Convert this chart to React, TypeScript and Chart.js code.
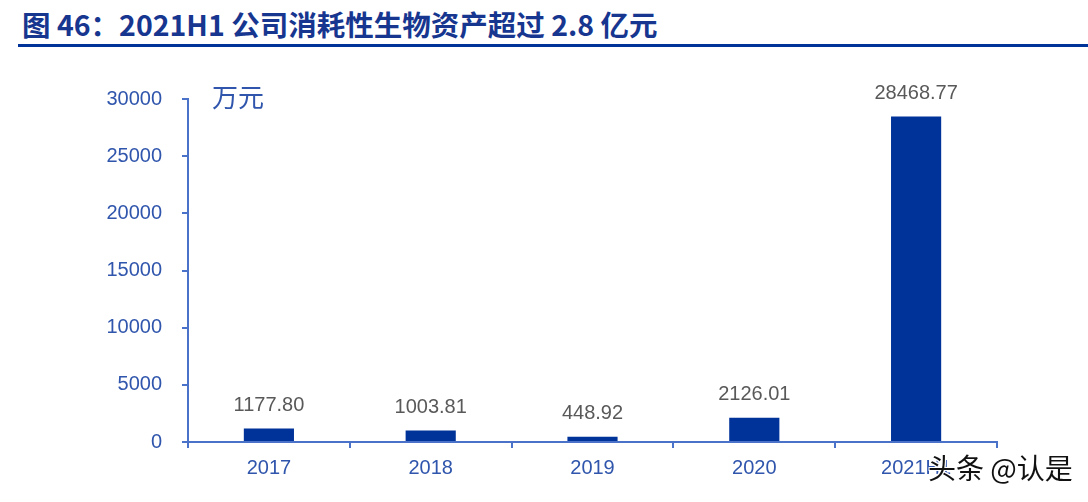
import React, { useEffect, useRef } from "react";
import { Chart, registerables } from "chart.js";

Chart.register(...registerables);

const categories = ["2017", "2018", "2019", "2020", "2021H1"];
const values = [1177.8, 1003.81, 448.92, 2126.01, 28468.77];
const yTicks = [0, 5000, 10000, 15000, 20000, 25000, 30000];
const titleText = "图 46：2021H1 公司消耗性生物资产超过 2.8 亿元";
const unitText = "万元";
const watermarkText = "头条 @认是";

const AXIS_BLUE = "#2f55ac";
const LINE_BLUE = "#4a72c8";
const BAR_BLUE = "#003399";

export default function App() {
  const ref = useRef<HTMLCanvasElement | null>(null);

  useEffect(() => {
    document.body.style.margin = "0";
    const canvas = ref.current;
    if (!canvas) return;

    const labelPlugin = {
      id: "barValueLabels",
      afterDatasetsDraw(chart: any) {
        const ctx = chart.ctx;
        const meta = chart.getDatasetMeta(0);
        ctx.save();
        ctx.font = "20px 'Liberation Sans', Arial, sans-serif";
        ctx.fillStyle = "#595959";
        ctx.textAlign = "center";
        ctx.textBaseline = "middle";
        meta.data.forEach((bar: any, i: number) => {
          ctx.fillText(values[i].toFixed(2), bar.x, bar.y - 23);
        });
        ctx.restore();
      },
    };

    const chart = new Chart(canvas, {
      type: "bar",
      data: {
        labels: categories,
        datasets: [
          {
            data: values,
            backgroundColor: BAR_BLUE,
            borderWidth: 0,
            barPercentage: 0.31,
            categoryPercentage: 1,
          },
        ],
      },
      options: {
        responsive: false,
        animation: false,
        layout: { padding: { left: 0, top: 99, right: 91, bottom: 0 } },
        plugins: {
          legend: { display: false },
          tooltip: { enabled: false },
          title: { display: false },
        },
        scales: {
          x: {
            grid: {
              display: true,
              offset: true,
              drawOnChartArea: false,
              drawTicks: true,
              tickLength: 6,
              tickColor: LINE_BLUE,
              lineWidth: 2,
            },
            border: { display: true, color: LINE_BLUE, width: 2 },
            ticks: {
              color: AXIS_BLUE,
              font: { family: "'Liberation Sans', Arial, sans-serif", size: 20 },
              padding: 8,
              maxRotation: 0,
            },
            afterFit: (s: any) => {
              s.height = 60;
            },
          },
          y: {
            min: 0,
            max: 30000,
            afterBuildTicks: (s: any) => {
              s.ticks = yTicks.map((v) => ({ value: v }));
            },
            grid: {
              display: true,
              drawOnChartArea: false,
              drawTicks: true,
              tickLength: 6,
              tickColor: LINE_BLUE,
              lineWidth: 2,
            },
            border: { display: true, color: LINE_BLUE, width: 2 },
            ticks: {
              color: AXIS_BLUE,
              font: { family: "'Liberation Sans', Arial, sans-serif", size: 20 },
              padding: 20,
              callback: (v: any) => String(v),
            },
            afterFit: (s: any) => {
              s.width = 188;
            },
          },
        },
      },
      plugins: [labelPlugin],
    });

    return () => chart.destroy();
  }, []);

  return (
    <div style={{ position: "relative", width: 1088, height: 502, background: "#fff", overflow: "hidden" }}>
      <div
        style={{
          position: "absolute",
          left: 22,
          top: 7,
          fontFamily: "'Noto Sans CJK SC', sans-serif",
          fontWeight: 700,
          fontSize: 28.5,
          lineHeight: "34px",
          color: "#17368f",
          whiteSpace: "nowrap",
        }}
      >
        {titleText}
      </div>
      <div
        style={{
          position: "absolute",
          left: 18,
          top: 44,
          width: 1070,
          height: 3,
          background: "#003399",
        }}
      />
      <canvas ref={ref} width={1088} height={502} style={{ position: "absolute", left: 0, top: 0 }} />
      <div
        style={{
          position: "absolute",
          left: 212,
          top: 80,
          fontFamily: "'Noto Sans CJK SC', sans-serif",
          fontSize: 26,
          lineHeight: "32px",
          color: AXIS_BLUE,
        }}
      >
        {unitText}
      </div>
      <div
        style={{
          position: "absolute",
          left: 928,
          top: 450,
          fontFamily: "'Noto Sans CJK SC', sans-serif",
          fontSize: 28,
          lineHeight: "34px",
          color: "#111",
          whiteSpace: "nowrap",
          textShadow: "1px 1px 0 #fff, -1px -1px 0 #fff, 1px -1px 0 #fff, -1px 1px 0 #fff",
        }}
      >
        {watermarkText}
      </div>
    </div>
  );
}
